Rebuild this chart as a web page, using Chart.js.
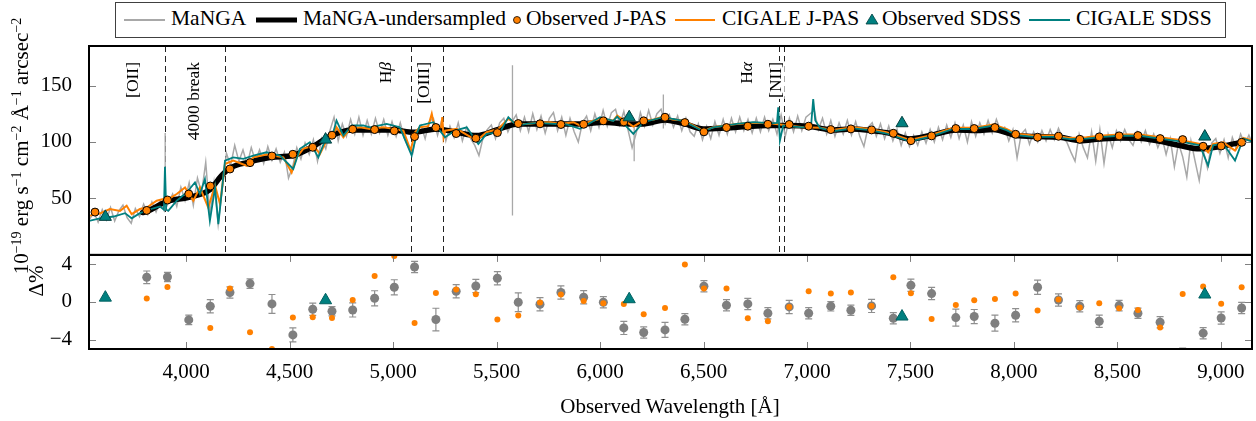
<!DOCTYPE html>
<html>
<head>
<meta charset="utf-8">
<title>MaNGA vs J-PAS / SDSS</title>
<script src="https://cdn.jsdelivr.net/npm/chart.js@4.4.1/dist/chart.umd.min.js"></script>
<style>
  html, body { margin: 0; padding: 0; background: #fff; }
  #wrap { position: relative; width: 1256px; height: 421px; font-family: "Liberation Serif", "Times New Roman", serif; color: #000; }
  #chart { position: absolute; left: 0; top: 0; }
  .legend { position: absolute; left: 115px; top: 2px; width: 1111px; height: 36px; border: 1px solid #404040; box-sizing: border-box; background: #fff; }
  .legend .txt { position: absolute; top: 5px; line-height: 1; font-size: 21.5px; white-space: nowrap; }
  .legend svg { position: absolute; left: 0; top: 0; }
  .vtitle { position: absolute; white-space: nowrap; font-size: 21px; line-height: 1; transform: translate(-50%, -50%) rotate(-90deg); }
  .vtitle sup { font-size: 14px; line-height: 0; vertical-align: 0.5em; }
  .xtitle { position: absolute; white-space: nowrap; font-size: 21px; line-height: 1; transform: translate(-50%, -50%); }
</style>
</head>
<body>
<div id="wrap">
  <canvas id="chart" width="1256" height="421"></canvas>

  <div class="legend">
    <svg width="1109" height="34">
      <line x1="8" y1="17" x2="49" y2="17" stroke="#a8a8a8" stroke-width="2"/>
      <line x1="140" y1="17" x2="181" y2="17" stroke="#000" stroke-width="5"/>
      <circle cx="401" cy="17" r="3.5" fill="#ff8000" stroke="#000" stroke-width="0.8"/>
      <line x1="559" y1="17" x2="599" y2="17" stroke="#ff8000" stroke-width="2"/>
      <polygon points="756,11 762,21 750,21" fill="#008080" stroke="#003f3f" stroke-width="0.8"/>
      <line x1="913" y1="17" x2="954" y2="17" stroke="#008080" stroke-width="2"/>
    </svg>
    <span class="txt" style="left:55px">MaNGA</span>
    <span class="txt" style="left:187px">MaNGA-undersampled</span>
    <span class="txt" style="left:410px">Observed J-PAS</span>
    <span class="txt" style="left:606px">CIGALE J-PAS</span>
    <span class="txt" style="left:766px">Observed SDSS</span>
    <span class="txt" style="left:960px">CIGALE SDSS</span>
  </div>

  <div class="vtitle" style="left:21px; top:146px">10<sup>−19</sup> erg s<sup>−1</sup> cm<sup>−2</sup> Å<sup>−1</sup> arcsec<sup>−2</sup></div>
  <div class="vtitle" style="left:36px; top:281px">Δ%</div>
  <div class="xtitle" style="left:670px; top:406px">Observed Wavelength [Å]</div>
</div>

<script>
// --- Datos ---
// MaNGA: rejilla de 20 Å desde 3535 Å
const mangaStart = 3535;
const mangaStep = 20;
const mangaFlux = [
  32, 38, 29, 40, 31, 42, 30, 39, 44, 33,           // 3535
  28, 41, 34, 45, 36, 47, 38, 48, 39, 46,           // 3735
  54, 43, 60, 48, 64, 44, 68, 55, 82, 36,           // 3935
  64, 27, 58, 90, 79, 97, 83, 93, 80, 95,           // 4135
  83, 93, 81, 96, 84, 94, 82, 91, 68, 78,           // 4335
  95, 85, 99, 89, 102, 83, 103, 94, 110, 122,       // 4535
  101, 116, 105, 120, 107, 122, 106, 119, 107, 121, // 4735
  108, 120, 106, 118, 105, 117, 103, 95, 90, 110,   // 4935
  115, 103, 118, 121, 106, 119, 101, 114, 104, 117, // 5135
  101, 113, 103, 97, 88, 104, 111, 115, 103, 117,   // 5335
  121, 109, 118, 124, 110, 122, 109, 125, 111, 123, // 5535
  108, 121, 126, 110, 122, 106, 121, 109, 100, 117, // 5735
  123, 110, 125, 113, 128, 114, 126, 129, 115, 127, // 5935
  111, 95, 108, 126, 114, 128, 115, 125, 129, 116,  // 6135
  124, 113, 123, 110, 121, 109, 105, 116, 102, 114, // 6335
  103, 118, 106, 120, 107, 121, 109, 122, 110, 120, // 6535
  108, 121, 109, 122, 110, 120, 107, 124, 105, 121, // 6735
  109, 123, 110, 122, 125, 128, 111, 121, 107, 119, // 6935
  105, 117, 107, 119, 106, 118, 105, 96, 113, 117,  // 7135
  105, 116, 103, 114, 101, 111, 97, 108, 96, 106,   // 7335
  97, 109, 99, 111, 100, 113, 102, 115, 104, 117,   // 7535
  103, 115, 100, 118, 105, 117, 107, 119, 108, 120, // 7735
  110, 113, 101, 111, 86, 107, 111, 98, 109, 100,   // 7935
  110, 101, 111, 102, 112, 103, 100, 91, 83, 107,   // 8135
  95, 86, 109, 83, 111, 81, 107, 95, 110, 101,      // 8335
  111, 102, 97, 109, 100, 110, 98, 107, 95, 104,    // 8535
  89, 103, 78, 99, 87, 69, 101, 83, 66, 92,         // 8735
  77, 99, 103, 90, 102, 86, 104, 94, 107, 98,       // 8935
  106, 97                                           // 9135
];
// líneas finas (cielo / emisión) del espectro MaNGA
const spikeWave = [3899, 5577, 6165, 6306];
const spikeLow = [40, 35, 83, 112];
const spikeHigh = [108, 168, 118, 142];

// MaNGA-undersampled
const underWave = [
  3790, 3810, 3909, 4013, 4117, 4170, 4218, 4299, 4412, 4516,
  4621, 4685, 4798, 4911, 5001, 5098, 5210, 5307, 5404, 5500,
  5605, 5710, 5815, 5919, 6016, 6129, 6209, 6314, 6410, 6499,
  6611, 6708, 6805, 6918, 7014, 7127, 7215, 7312, 7400, 7497,
  7594, 7723, 7819, 7899, 8012, 8109, 8222, 8318, 8415, 8512,
  8608, 8705, 8802, 8898, 8995, 9075, 9100
];
const underFlux = [
  37.5, 38.5, 47.5, 51, 58, 70, 77.5, 82, 86.4, 88,
  96.8, 104.2, 110.7, 110.7, 110.7, 108.6, 111.6, 108.6, 105.7, 110.7,
  116, 116, 116, 116, 117.5, 116, 116, 119.5, 116, 111.6,
  112.5, 113.7, 114.6, 114.6, 113.7, 110.7, 111.6, 110.1, 107.7, 102.7,
  105.7, 110.7, 110.1, 111, 105.7, 104.8, 104.2, 101.2, 102.7, 103.6,
  103.3, 100.6, 96.8, 93.9, 95.9, 98.8, 99.5
];

// Observed J-PAS
const jpasWave = [
  3560, 3810, 3910, 4013, 4117, 4212, 4309, 4415, 4516, 4612,
  4705, 4805, 4911, 5006, 5104, 5207, 5305, 5400, 5504, 5605,
  5710, 5811, 5921, 6016, 6115, 6211, 6314, 6410, 6502, 6611,
  6714, 6811, 6914, 7008, 7115, 7212, 7312, 7417, 7502, 7602,
  7719, 7808, 7908, 8008, 8114, 8215, 8318, 8412, 8508, 8599,
  8706, 8815, 8914, 9001, 9100
];
const jpasFlux = [
  37.9, 39.4, 48.6, 53.9, 61.0, 76.1, 81.7, 87.6, 89.1, 95.3,
  106.0, 111.3, 111.0, 109.9, 104.8, 112.8, 107.5, 103.3, 108.3, 116.3,
  116.1, 115.5, 115.7, 118.7, 117.8, 118.7, 121.9, 117.2, 109.0, 112.8,
  114.0, 115.7, 115.5, 114.0, 111.0, 111.6, 110.7, 107.7, 101.2, 105.4,
  111.9, 111.9, 112.8, 106.8, 104.2, 105.1, 102.4, 104.5, 105.4, 105.7,
  103.0, 102.1, 96.2, 96.5, 99.7
];

// CIGALE J-PAS
const cigJWave = [
  3531, 3584, 3632, 3681, 3713, 3737, 3777, 3810, 3858, 3890,
  3920, 3955, 3995, 4035, 4067, 4107, 4140, 4164, 4188, 4228,
  4293, 4325, 4389, 4470, 4510, 4534, 4566, 4615, 4647, 4679,
  4711, 4727, 4760, 4792, 4840, 4889, 4953, 5001, 5050, 5085,
  5106, 5130, 5170, 5187, 5200, 5232, 5238, 5244, 5252, 5307,
  5404, 5452, 5508, 5557, 5597, 5645, 5700, 5758, 5810, 5871,
  5903, 5950, 6000, 6064, 6083, 6161, 6209, 6260, 6305, 6350,
  6402, 6451, 6499, 6547, 6604, 6660, 6740, 6821, 6870, 6909,
  6981, 7063, 7125, 7223, 7304, 7384, 7497, 7594, 7706, 7803,
  7899, 7964, 8012, 8093, 8189, 8270, 8350, 8431, 8512, 8608,
  8705, 8802, 8898, 8938, 8962, 9011, 9068, 9108, 9157
];
const cigJFlux = [
  34.6, 36.7, 40.6, 39, 43.5, 36.1, 40.6, 42, 48, 49.5,
  50, 53.9, 59.8, 48, 59.8, 42, 61.3, 45, 80.5, 83.5,
  79, 86.4, 88.8, 86.4, 73, 86.4, 93.9, 96.8, 89.4, 101.2,
  107.2, 113, 104.2, 111.6, 113, 111.6, 113, 111.6, 110, 92.4,
  108.6, 113, 114, 125, 113, 113, 122, 104, 110, 111.6,
  101.2, 108.6, 111.6, 120.5, 116, 116, 117, 117.5, 116, 117.5,
  114.6, 118, 120.5, 119, 123.4, 113.7, 119, 120, 122.6, 120,
  119, 114.6, 110, 113, 114.6, 116, 117, 116.6, 115.5, 114.6,
  113, 112.5, 110.7, 113, 111.6, 108.6, 101.8, 105.7, 112.5, 112.5,
  115.5, 111.6, 107.2, 105.7, 105.7, 103.6, 104.2, 105.7, 106.6, 106.6,
  104.2, 101.8, 98.3, 90.9, 98.3, 99.7, 92.4, 103.6, 101.2
];

// Observed SDSS
const sdssWave = [3610, 4674, 6141, 7459, 8922];
const sdssFlux = [33.7, 102.1, 121.9, 116.6, 104.8];

// CIGALE SDSS
const cigSWave = [
  3531, 3584, 3650, 3705, 3737, 3777, 3842, 3874, 3893, 3898,
  3904, 3914, 3955, 4003, 4043, 4067, 4091, 4115, 4140, 4156,
  4188, 4228, 4277, 4325, 4389, 4454, 4494, 4518, 4550, 4598,
  4639, 4671, 4711, 4727, 4760, 4800, 4856, 4889, 4969, 5033,
  5090, 5114, 5130, 5195, 5251, 5299, 5356, 5412, 5452, 5517,
  5557, 5597, 5645, 5700, 5758, 5839, 5903, 6000, 6064, 6083,
  6161, 6209, 6305, 6402, 6499, 6547, 6660, 6740, 6821, 6855,
  6861, 6869, 6885, 6909, 6981, 7020, 7030, 7040, 7063, 7125,
  7223, 7304, 7384, 7497, 7594, 7706, 7803, 7899, 7964, 8012,
  8093, 8189, 8270, 8350, 8431, 8512, 8608, 8705, 8802, 8898,
  8938, 8962, 9011, 9068, 9108, 9157
];
const cigSFlux = [
  30.2, 32.4, 34, 37, 32.4, 37, 41.3, 42.9, 40, 78,
  40, 39, 48, 55.3, 64.2, 54, 67.2, 30.2, 59.8, 27.2,
  83.5, 86.4, 85, 87.9, 90.9, 87.9, 80.5, 76.1, 93.9, 99.7,
  86.4, 101.2, 108.6, 119, 105.7, 114.6, 114.6, 113, 116, 113,
  87.9, 107.2, 114.6, 117.5, 104.2, 110, 113, 98.3, 107.2, 108.6,
  122, 114.6, 116, 117, 116.3, 115.5, 111.6, 122, 118.6, 122.4,
  107.2, 117.5, 122, 118.6, 109.4, 113, 116, 117.5, 116.6, 117,
  130.8, 101.2, 114.6, 114, 113, 115, 138, 119, 112.5, 109.5,
  112, 110.5, 107.5, 100.5, 104.5, 111.5, 111.5, 114.5, 110.5, 106,
  104.5, 104.5, 102.5, 103, 104.5, 105.5, 105.5, 103, 100.5, 97,
  79, 97, 98.5, 83.5, 103, 100
];

// Residuos (Δ%) en las bandas J-PAS (sin la primera)
const resWave = jpasWave.slice(1);
const resManga = [
  2.62, 2.65, -1.91, -0.46, 1.0, 1.95, -0.21, -3.5, -0.77, -0.99,
  -0.85, 0.39, 1.56, 3.72, -1.87, 1.14, 1.7, 2.52, -0.03, -0.24,
  1.0, 0.5, -0.03, -2.76, -3.25, -2.97, -1.84, 1.67, -0.35, -0.21,
  -1.2, -0.53, -1.2, -0.46, -0.88, -0.42, -1.73, 1.77, 0.89, -1.66,
  -1.55, -2.26, -1.41, 1.56, 0.21, -0.46, -2.05, -0.39, -1.2, -2.16,
  -5.6, -3.32, -1.7, -0.64
];
const resMangaErr = [
  0.67, 0.5, 0.5, 0.7, 0.6, 0.5, 1.0, 0.75, 0.65, 0.5,
  0.75, 0.8, 0.8, 0.6, 1.2, 0.7, 0.7, 0.7, 1.0, 0.7,
  0.7, 0.7, 0.6, 0.7, 0.6, 0.8, 0.6, 0.6, 0.6, 0.6,
  0.6, 0.7, 0.6, 0.5, 0.55, 0.7, 0.6, 0.65, 0.65, 0.9,
  0.75, 0.85, 0.7, 0.75, 0.65, 0.6, 0.65, 0.55, 0.55, 0.6,
  0.7, 0.6, 0.65, 0.6
];
const resCigale = [
  0.36, 1.6, null, -2.76, 1.42, -3.22, -5.0, -1.66, -1.63, -1.7,
  0.21, 2.76, 4.88, -2.23, 0.96, 1.32, 0.82, -1.87, -1.45, -0.07,
  0.78, 0.11, -0.14, -0.21, -1.3, -0.64, 3.97, 1.42, 1.42, -1.73,
  -2.05, -0.53, 1.14, 0.89, 1.0, -0.42, 2.62, 0.92, -1.8, -0.32,
  0.18, 0.32, 0.89, -0.92, 0.25, -0.6, -0.14, -0.67, -0.85, -2.72,
  0.85, 1.63, -0.18, 1.56
];
const resSdssWave = [3610, 4674, 6141, 7459, 8922];
const resSdss = [0.46, 0.18, 0.29, -1.55, 0.79];

// Ejes
const xTicks = [4000, 4500, 5000, 5500, 6000, 6500, 7000, 7500, 8000, 8500, 9000];
const fluxTicks = [50, 100, 150];
const resTicks = [-4, 0, 4];

// Líneas espectrales marcadas
const featureWave = [3899, 4186, 5086, 5240, 6867, 6887];
const featureName = ['[OII]', '4000 break', 'Hβ', '[OIII]', 'Hα', '[NII]'];
// desplazamiento horizontal de cada etiqueta (px) respecto a su línea
const featureLabelDx = [-32, -30, -24, -18, -32, -7];

// --- Colores ---
const ORANGE = '#ff8000';
const TEAL = '#008080';
const GRAY = '#a8a8a8';
const SERIF = '"Liberation Serif", "Times New Roman", serif';

// --- Helpers ---
const pts = (xs, ys) => xs.map((x, i) => ({ x, y: ys[i] }));
const mangaPts = mangaFlux.map((f, i) => ({ x: mangaStart + i * mangaStep, y: f }));
const spikePts = [];
spikeWave.forEach((w, i) => {
  spikePts.push({ x: w, y: spikeLow[i] }, { x: w, y: spikeHigh[i] }, { x: w, y: null });
});
const minusFmt = v => (v < 0 ? '\u2212' + Math.abs(v) : String(v));

Chart.defaults.font.family = SERIF;
Chart.defaults.color = '#000';

// Marcos, ticks interiores, líneas discontinuas, etiquetas y barras de error
const panelPlugin = {
  id: 'panels',
  beforeDatasetsDraw(chart) {
    const { ctx, scales: { x, y, yRes } } = chart;

    // líneas discontinuas verticales (solo panel superior)
    ctx.save();
    ctx.strokeStyle = '#222';
    ctx.lineWidth = 1;
    ctx.setLineDash([6, 4]);
    featureWave.forEach(w => {
      const px = Math.round(x.getPixelForValue(w)) + 0.5;
      ctx.beginPath();
      ctx.moveTo(px, y.top);
      ctx.lineTo(px, y.bottom);
      ctx.stroke();
    });
    ctx.restore();

    // barras de error de los residuos MaNGA
    ctx.save();
    ctx.beginPath();
    ctx.rect(x.left, yRes.top, x.right - x.left, yRes.bottom - yRes.top);
    ctx.clip();
    ctx.strokeStyle = '#8f8f8f';
    ctx.lineWidth = 1.2;
    resWave.forEach((w, i) => {
      const px = x.getPixelForValue(w);
      const top = yRes.getPixelForValue(resManga[i] + resMangaErr[i]);
      const bot = yRes.getPixelForValue(resManga[i] - resMangaErr[i]);
      ctx.beginPath();
      ctx.moveTo(px, top); ctx.lineTo(px, bot);
      ctx.moveTo(px - 3.5, top); ctx.lineTo(px + 3.5, top);
      ctx.moveTo(px - 3.5, bot); ctx.lineTo(px + 3.5, bot);
      ctx.stroke();
    });
    ctx.restore();
  },
  afterDatasetsDraw(chart) {
    const { ctx, scales: { x, y, yRes } } = chart;

    // etiquetas rotadas de las líneas
    ctx.save();
    featureName.forEach((name, i) => {
      const px = x.getPixelForValue(featureWave[i]) + featureLabelDx[i];
      const runs = name.startsWith('H') ? [['H', ''], [name.slice(1), 'italic ']] : [[name, '']];
      ctx.save();
      ctx.translate(px, y.top + 16);
      ctx.rotate(-Math.PI / 2);
      ctx.textBaseline = 'middle';
      let total = 0;
      runs.forEach(r => { ctx.font = r[1] + '17.5px ' + SERIF; total += ctx.measureText(r[0]).width; });
      ctx.fillStyle = '#fff';
      ctx.fillRect(-total - 1, -8, total + 2, 16);
      ctx.fillStyle = '#000';
      ctx.textAlign = 'left';
      let cx = -total;
      runs.forEach(r => {
        ctx.font = r[1] + '17.5px ' + SERIF;
        ctx.fillText(r[0], cx, 0);
        cx += ctx.measureText(r[0]).width;
      });
      ctx.restore();
    });
    ctx.restore();

    // ticks interiores
    ctx.save();
    ctx.strokeStyle = '#808080';
    ctx.lineWidth = 1;
    const tl = 7;
    ctx.beginPath();
    [[y, fluxTicks], [yRes, resTicks]].forEach(([s, ticks]) => {
      ticks.forEach(v => {
        const py = Math.round(s.getPixelForValue(v)) + 0.5;
        ctx.moveTo(x.left, py); ctx.lineTo(x.left + tl, py);
        ctx.moveTo(x.right, py); ctx.lineTo(x.right - tl, py);
      });
    });
    xTicks.forEach(v => {
      const px = Math.round(x.getPixelForValue(v)) + 0.5;
      ctx.moveTo(px, yRes.top); ctx.lineTo(px, yRes.top + tl);
      ctx.moveTo(px, yRes.bottom); ctx.lineTo(px, yRes.bottom - tl);
    });
    ctx.stroke();
    ctx.restore();

    // marcos
    ctx.save();
    ctx.strokeStyle = '#000';
    ctx.lineWidth = 2;
    ctx.strokeRect(x.left, y.top, x.right - x.left, y.bottom - y.top);
    ctx.strokeRect(x.left, yRes.top, x.right - x.left, yRes.bottom - yRes.top);
    ctx.restore();
  }
};

const lineDs = (data, color, width, order, extra = {}) => Object.assign({
  data, showLine: true, borderColor: color, backgroundColor: color,
  borderWidth: width, pointRadius: 0, pointHoverRadius: 0, tension: 0,
  spanGaps: false, order, yAxisID: 'y'
}, extra);

new Chart(document.getElementById('chart'), {
  type: 'scatter',
  data: {
    datasets: [
      lineDs(mangaPts, GRAY, 1.5, 10),
      lineDs(spikePts, GRAY, 1.3, 10),
      lineDs(pts(underWave, underFlux), '#000', 5.5, 9,
        { cubicInterpolationMode: 'monotone', borderJoinStyle: 'round', borderCapStyle: 'round' }),
      lineDs(pts(cigJWave, cigJFlux), ORANGE, 2, 8),
      lineDs(pts(cigSWave, cigSFlux), TEAL, 1.8, 7),
      {
        data: pts(jpasWave, jpasFlux), yAxisID: 'y', order: 2,
        pointRadius: 4, pointBackgroundColor: ORANGE, pointBorderColor: '#000', pointBorderWidth: 1
      },
      {
        data: pts(sdssWave, sdssFlux), yAxisID: 'y', order: 1,
        pointStyle: 'triangle', pointRadius: 7, pointBackgroundColor: TEAL,
        pointBorderColor: '#003f3f', pointBorderWidth: 1
      },
      {
        data: pts(resWave, resManga), yAxisID: 'yRes', order: 3,
        pointRadius: 4.5, pointBackgroundColor: '#7f7f7f', pointBorderWidth: 0
      },
      {
        data: pts(resWave, resCigale), yAxisID: 'yRes', order: 2,
        pointRadius: 3, pointBackgroundColor: ORANGE, pointBorderWidth: 0
      },
      {
        data: pts(resSdssWave, resSdss), yAxisID: 'yRes', order: 1,
        pointStyle: 'triangle', pointRadius: 7, pointBackgroundColor: TEAL,
        pointBorderColor: '#006060', pointBorderWidth: 1
      }
    ]
  },
  options: {
    responsive: false,
    animation: false,
    devicePixelRatio: 1,
    events: [],
    layout: { padding: { top: 46, right: 4, left: 0, bottom: 0 }, autoPadding: false },
    plugins: { legend: { display: false }, tooltip: { enabled: false } },
    scales: {
      x: {
        type: 'linear', position: 'bottom', min: 3531, max: 9150,
        grid: { display: false }, border: { display: false },
        ticks: { font: { size: 21, family: SERIF }, padding: 3, maxRotation: 0, autoSkip: false,
                 callback: v => v.toLocaleString('en-US') },
        afterBuildTicks: s => { s.ticks = xTicks.map(v => ({ value: v })); },
        afterFit: s => { s.height = 72; }
      },
      yRes: {
        type: 'linear', position: 'left', stack: 'panels', stackWeight: 94,
        min: -5, max: 5,
        grid: { display: false }, border: { display: false },
        ticks: { font: { size: 21, family: SERIF }, padding: 9, callback: minusFmt },
        afterBuildTicks: s => { s.ticks = resTicks.map(v => ({ value: v })); },
        afterFit: s => { s.width = 89; }
      },
      y: {
        type: 'linear', position: 'left', stack: 'panels', stackWeight: 208.7,
        min: 0, max: 185,
        grid: { display: false }, border: { display: false },
        ticks: { font: { size: 21, family: SERIF }, padding: 9 },
        afterBuildTicks: s => { s.ticks = fluxTicks.map(v => ({ value: v })); },
        afterFit: s => { s.width = 89; }
      }
    }
  },
  plugins: [panelPlugin]
});
</script>
</body>
</html>
